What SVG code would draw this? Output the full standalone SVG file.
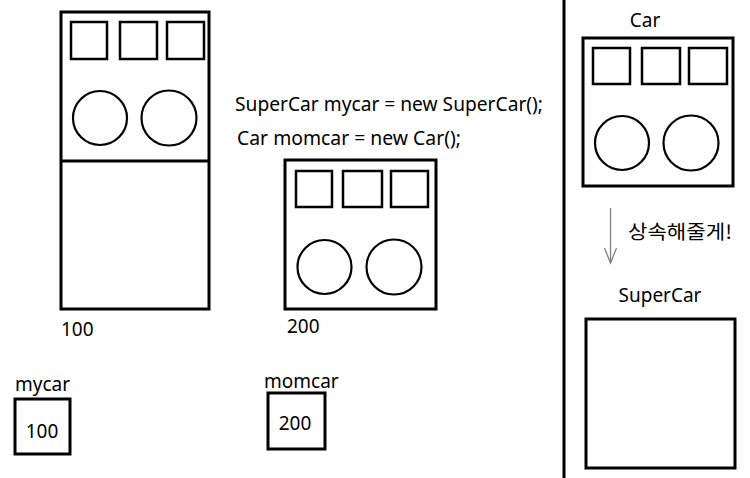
<svg xmlns="http://www.w3.org/2000/svg" width="750" height="478" viewBox="0 0 750 478">
<style>
.box{fill:#fff;stroke:#000;stroke-width:3}
.sq{fill:none;stroke:#000;stroke-width:2.5}
.wh{fill:none;stroke:#000;stroke-width:2.2}
.t{font-family:"Noto Sans","Noto Sans CJK KR",sans-serif;font-size:19px;fill:#000}
.k{font-family:"Noto Sans CJK KR",sans-serif;font-size:19px;fill:#000}
.conn{stroke:#808080;stroke-width:1.3;fill:none}
</style>
<rect width="750" height="478" fill="#fff"/>
<g id="supercar-obj">
<rect class="box" x="61" y="12" width="148" height="297"/>
<line x1="61" y1="161" x2="209" y2="161" stroke="#000" stroke-width="3"/>
<rect class="sq" x="71" y="22" width="36" height="37"/>
<rect class="sq" x="120" y="22" width="37" height="37"/>
<rect class="sq" x="167" y="22" width="37" height="37"/>
<circle class="wh" cx="100" cy="118" r="27"/>
<circle class="wh" cx="169" cy="118" r="27.5"/>
<text class="t" x="61" y="336">100</text>
</g>
<g id="code">
<text class="t" x="235" y="111" textLength="308" lengthAdjust="spacingAndGlyphs">SuperCar mycar = new SuperCar();</text>
<text class="t" x="237" y="145" textLength="224" lengthAdjust="spacingAndGlyphs">Car momcar = new Car();</text>
</g>
<g id="car-obj">
<rect class="box" x="285" y="160" width="151" height="149"/>
<rect class="sq" x="296" y="171" width="36" height="36"/>
<rect class="sq" x="343" y="171" width="39" height="36"/>
<rect class="sq" x="391" y="171" width="37" height="36"/>
<circle class="wh" cx="324.5" cy="267" r="27"/>
<circle class="wh" cx="394" cy="267" r="27.5"/>
<text class="t" x="287" y="333">200</text>
</g>
<g id="mycar">
<text class="t" x="15" y="391">mycar</text>
<rect class="box" x="15" y="399" width="55" height="55"/>
<text class="t" x="42" y="438" text-anchor="middle">100</text>
</g>
<g id="momcar">
<text class="t" x="264" y="388">momcar</text>
<rect class="box" x="268" y="393" width="57" height="56"/>
<text class="t" x="295" y="430" text-anchor="middle">200</text>
</g>
<line x1="564" y1="0" x2="564" y2="478" stroke="#000" stroke-width="3"/>
<g id="car-class">
<text class="t" x="645" y="27" text-anchor="middle">Car</text>
<rect class="box" x="583" y="38" width="150" height="148"/>
<rect class="sq" x="593" y="48" width="37" height="36"/>
<rect class="sq" x="642" y="48" width="38" height="36"/>
<rect class="sq" x="689" y="48" width="38" height="36"/>
<circle class="wh" cx="622" cy="143" r="27"/>
<circle class="wh" cx="691" cy="143" r="27.5"/>
</g>
<g id="connectors">
<line class="conn" x1="610.5" y1="208" x2="610.5" y2="263"/>
<polyline class="conn" points="604.5,248 610.5,263 616.5,248"/>
<text class="k" x="628" y="239" textLength="104" lengthAdjust="spacingAndGlyphs">상속해줄게!</text>
</g>
<g id="supercar-class">
<text class="t" x="660" y="302" text-anchor="middle">SuperCar</text>
<rect class="box" x="586" y="319" width="149" height="149"/>
</g>
</svg>
